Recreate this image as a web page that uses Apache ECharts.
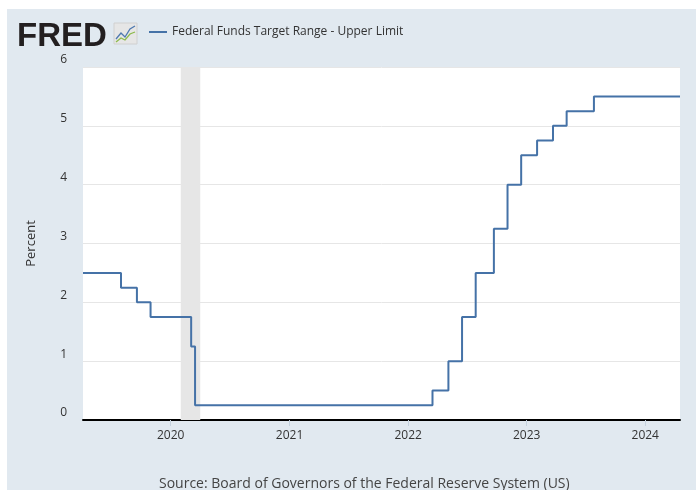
<!DOCTYPE html>
<html>
<head>
<meta charset="utf-8">
<script src="https://cdn.jsdelivr.net/npm/echarts@6/dist/echarts.min.js"></script>
<style>
html,body{margin:0;padding:0;background:#fff;}
#chart{width:696px;height:490px;}
</style>
</head>
<body>
<div id="chart"></div>
<script>
// Dates at which the target upper limit changed (value holds from that date on)
var changeDates = ['2019-04-06','2019-08-01','2019-09-19','2019-10-31','2020-03-04','2020-03-16',
  '2022-03-17','2022-05-05','2022-06-16','2022-07-28','2022-09-22','2022-11-03','2022-12-15',
  '2023-02-02','2023-03-23','2023-05-04','2023-07-27','2024-04-17'];
var upperLimit = [2.50,2.25,2.00,1.75,1.25,0.25,
  0.50,1.00,1.75,2.50,3.25,4.00,4.50,
  4.75,5.00,5.25,5.50,5.50];
var recessionStart = '2020-02-01';
var recessionEnd = '2020-04-01';
var yTicks = [0,1,2,3,4,5,6];
var seriesName = 'Federal Funds Target Range - Upper Limit';
var sourceText = 'Source: Board of Governors of the Federal Reserve System (US)';

var data = changeDates.map(function(d,i){return [d, upperLimit[i]];});
var chart = echarts.init(document.getElementById('chart'));
var YEAR = 365.25*24*3600*1000;
chart.setOption({
  backgroundColor:'#ffffff',
  animation:false,
  textStyle:{fontFamily:'"Open Sans", sans-serif'},
  graphic:[
    {type:'rect',z:-10,shape:{x:7,y:9,width:689,height:481},style:{fill:'#e1e9f0'}},
    {type:'text',left:17,top:20,style:{text:'FRED',font:'bold 33px "Liberation Sans", Arial, sans-serif',fill:'#231f20'}},
    {type:'rect',shape:{x:114,y:23,width:23,height:21},style:{fill:'#e6e6e6',stroke:'#d0d0d0',lineWidth:1}},
    {type:'polyline',shape:{points:[[116,39],[121,33],[125,37],[130,29],[135,26]]},style:{stroke:'#4e79b0',lineWidth:1.3,fill:null}},
    {type:'polyline',shape:{points:[[116,42],[121,38],[125,40],[130,34],[135,32]]},style:{stroke:'#8dba4c',lineWidth:1.3,fill:null}},
    {type:'text',left:159,top:477,style:{text:sourceText,font:'14px "Open Sans", sans-serif',fill:'#444'}}
  ],
  legend:{
    left:149,top:26,padding:0,itemWidth:18,itemHeight:2,icon:'rect',
    textStyle:{fontSize:12,color:'#333'},
    data:[seriesName]
  },
  grid:{left:83,right:16,top:67,bottom:70,show:true,backgroundColor:'#ffffff',borderWidth:0},
  xAxis:{
    type:'time',
    min:changeDates[0],max:changeDates[changeDates.length-1],
    minInterval:YEAR,maxInterval:YEAR,
    axisLine:{lineStyle:{color:'#000',width:2}},
    axisTick:{show:true,length:6,lineStyle:{color:'#c5d2de'}},
    axisLabel:{color:'#333',fontSize:12,margin:10,formatter:'{yyyy}',hideOverlap:false},
    splitLine:{show:false}
  },
  yAxis:{
    type:'value',min:yTicks[0],max:yTicks[yTicks.length-1],interval:1,
    name:'Percent',nameLocation:'middle',nameGap:45,
    nameTextStyle:{color:'#333',fontSize:13},
    axisLine:{show:false},axisTick:{show:false},
    axisLabel:{color:'#333',fontSize:12,margin:16,verticalAlign:'bottom',padding:[0,0,1,0]},
    splitLine:{lineStyle:{color:'#e6e6e6',width:1}}
  },
  series:[{
    name:seriesName,type:'line',step:'end',data:data,
    showSymbol:false,symbol:'none',
    lineStyle:{color:'#4572a7',width:2},
    itemStyle:{color:'#4572a7'},
    markArea:{silent:true,itemStyle:{color:'#e6e6e6'},data:[[{xAxis:recessionStart},{xAxis:recessionEnd}]]}
  }]
});
</script>
</body>
</html>
